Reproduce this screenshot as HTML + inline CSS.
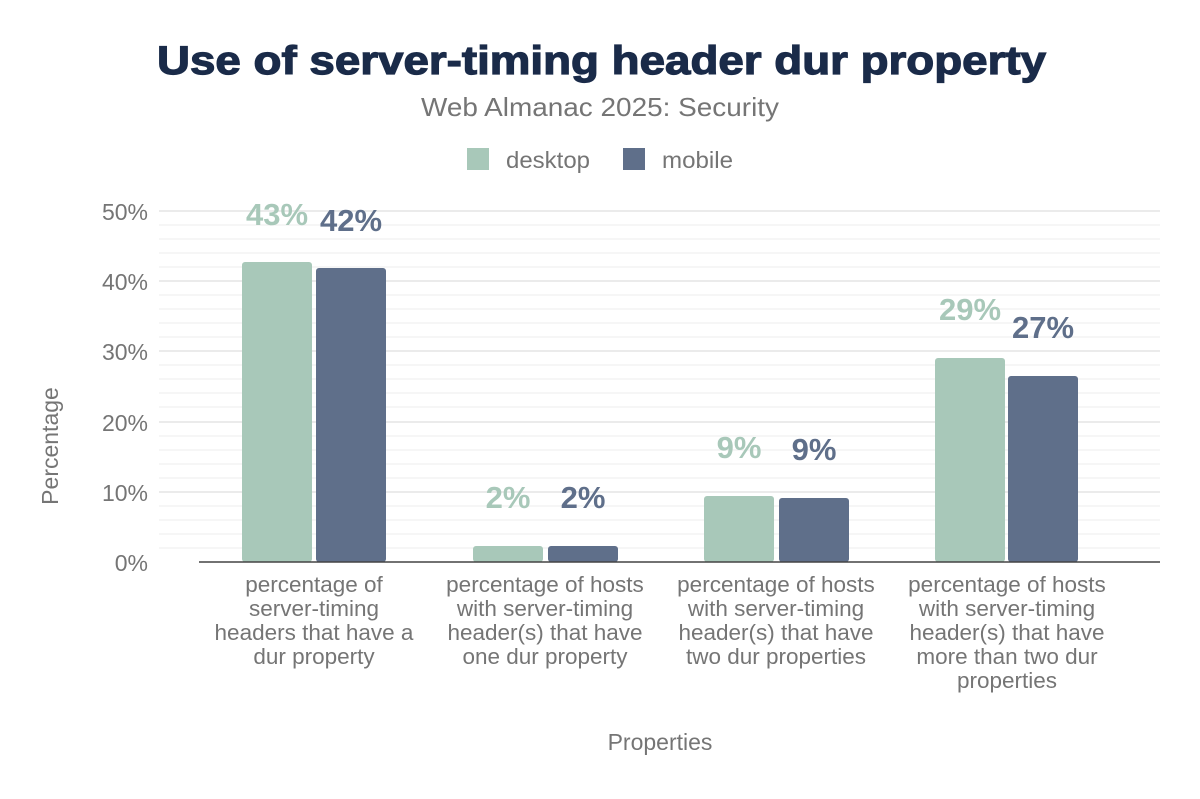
<!DOCTYPE html>
<html><head><meta charset="utf-8"><style>body{margin:0;background:#fff}</style></head><body>
<svg width="1200" height="794" xmlns="http://www.w3.org/2000/svg" font-family="Liberation Sans, Arial, sans-serif">
<rect width="1200" height="794" fill="#fff"/>
<text x="157" y="74" font-size="40" font-weight="bold" fill="#1a2b49" textLength="889" lengthAdjust="spacingAndGlyphs" stroke="#1a2b49" stroke-width="1.2">Use of server-timing header dur property</text>
<text x="600" y="116" text-anchor="middle" font-size="26" fill="#757575" textLength="358" lengthAdjust="spacingAndGlyphs">Web Almanac 2025: Security</text>
<rect x="467" y="148" width="22" height="22" fill="#a8c8b9"/>
<text x="506" y="168" font-size="23" fill="#757575" textLength="84" lengthAdjust="spacingAndGlyphs">desktop</text>
<rect x="623" y="148" width="22" height="22" fill="#5f6f8a"/>
<text x="662" y="168" font-size="23" fill="#757575" textLength="71" lengthAdjust="spacingAndGlyphs">mobile</text>
<g stroke="#f3f3f3" stroke-width="1.5">
<line x1="159" x2="1160" y1="225" y2="225"/><line x1="159" x2="1160" y1="239" y2="239"/><line x1="159" x2="1160" y1="253" y2="253"/><line x1="159" x2="1160" y1="267" y2="267"/>
<line x1="159" x2="1160" y1="295" y2="295"/><line x1="159" x2="1160" y1="309" y2="309"/><line x1="159" x2="1160" y1="323" y2="323"/><line x1="159" x2="1160" y1="337" y2="337"/>
<line x1="159" x2="1160" y1="365" y2="365"/><line x1="159" x2="1160" y1="379" y2="379"/><line x1="159" x2="1160" y1="393" y2="393"/><line x1="159" x2="1160" y1="407" y2="407"/>
<line x1="159" x2="1160" y1="436" y2="436"/><line x1="159" x2="1160" y1="450" y2="450"/><line x1="159" x2="1160" y1="464" y2="464"/><line x1="159" x2="1160" y1="478" y2="478"/>
<line x1="159" x2="1160" y1="506" y2="506"/><line x1="159" x2="1160" y1="520" y2="520"/><line x1="159" x2="1160" y1="534" y2="534"/><line x1="159" x2="1160" y1="548" y2="548"/>
</g>
<g stroke="#ebebeb" stroke-width="2">
<line x1="159" x2="1160" y1="211" y2="211"/><line x1="159" x2="1160" y1="281" y2="281"/><line x1="159" x2="1160" y1="351" y2="351"/><line x1="159" x2="1160" y1="422" y2="422"/><line x1="159" x2="1160" y1="492" y2="492"/>
</g>
<g font-size="23" fill="#757575" text-anchor="end">
<text x="148" y="220">50%</text><text x="148" y="290">40%</text><text x="148" y="360">30%</text><text x="148" y="431">20%</text><text x="148" y="501">10%</text><text x="148" y="571">0%</text>
</g>
<text transform="translate(58,446) rotate(-90)" text-anchor="middle" font-size="23" fill="#757575">Percentage</text>
<g fill="#a8c8b9">
<rect x="242" y="262" width="70" height="300" rx="3"/>
<rect x="473" y="546" width="70" height="16" rx="3"/>
<rect x="704" y="496" width="70" height="66" rx="3"/>
<rect x="935" y="358" width="70" height="204" rx="3"/>
</g>
<g fill="#5f6f8a">
<rect x="316" y="268" width="70" height="294" rx="3"/>
<rect x="548" y="546" width="70" height="16" rx="3"/>
<rect x="779" y="498" width="70" height="64" rx="3"/>
<rect x="1008" y="376" width="70" height="186" rx="3"/>
</g>
<line x1="199" x2="1160" y1="562" y2="562" stroke="#444" stroke-width="1.5"/>
<g font-size="31" font-weight="bold" text-anchor="middle">
<text x="277" y="225" fill="#a8c8b9">43%</text><text x="351" y="231" fill="#5f6f8a">42%</text>
<text x="508" y="508" fill="#a8c8b9">2%</text><text x="583" y="508" fill="#5f6f8a">2%</text>
<text x="739" y="458" fill="#a8c8b9">9%</text><text x="814" y="460" fill="#5f6f8a">9%</text>
<text x="970" y="320" fill="#a8c8b9">29%</text><text x="1043" y="338" fill="#5f6f8a">27%</text>
</g>
<g font-size="22.5" fill="#757575" text-anchor="middle">
<text x="314" y="592">percentage of</text><text x="314" y="616">server-timing</text><text x="314" y="640">headers that have a</text><text x="314" y="664">dur property</text>
<text x="545" y="592">percentage of hosts</text><text x="545" y="616">with server-timing</text><text x="545" y="640">header(s) that have</text><text x="545" y="664">one dur property</text>
<text x="776" y="592">percentage of hosts</text><text x="776" y="616">with server-timing</text><text x="776" y="640">header(s) that have</text><text x="776" y="664">two dur properties</text>
<text x="1007" y="592">percentage of hosts</text><text x="1007" y="616">with server-timing</text><text x="1007" y="640">header(s) that have</text><text x="1007" y="664">more than two dur</text><text x="1007" y="688">properties</text>
</g>
<text x="660" y="750" text-anchor="middle" font-size="23" fill="#757575">Properties</text>
</svg>
</body></html>
